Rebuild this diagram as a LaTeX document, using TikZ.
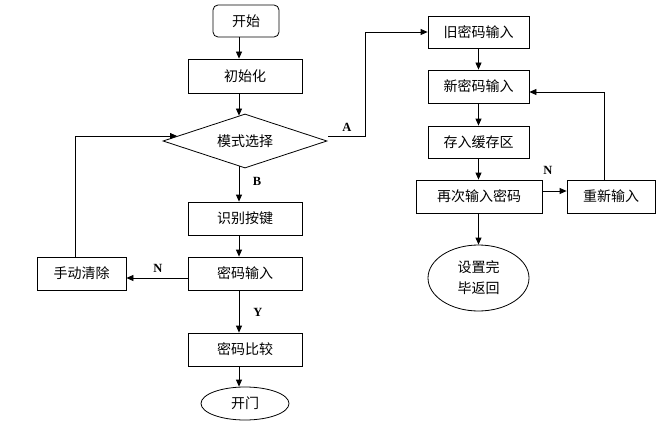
\documentclass[tikz,border=0pt]{standalone}
\usepackage{fontspec}
\setmainfont{Liberation Serif}
\newfontfamily\cjk{Noto Sans CJK SC}
\usetikzlibrary{shapes.geometric,arrows.meta,calc}
\begin{document}
\begin{tikzpicture}[x=1pt,y=-1pt,
  box/.style={draw, line width=0.8pt, rectangle, inner sep=0pt, font=\cjk\fontsize{14}{16}\selectfont},
  arr/.style={-{Triangle[length=7pt,width=6pt]}, line width=0.8pt},
  ln/.style={line width=0.8pt},
  lbl/.style={font=\bfseries\fontsize{12.5}{13}\selectfont, inner sep=0pt}]
\useasboundingbox (0,0) rectangle (671,433);
% left column
\node[box, rounded corners=5pt, minimum width=66pt, minimum height=32pt] (start) at (246,21) {开始};
\node[box, minimum width=114pt, minimum height=34pt] (init) at (245,76) {初始化};
\node[box, diamond, aspect=3, minimum width=164pt, minimum height=54pt] (mode) at (245,141) {模式选择};
\node[box, minimum width=114pt, minimum height=33pt] (recog) at (245,218.5) {识别按键};
\node[box, minimum width=114pt, minimum height=33pt] (pin) at (245,273.5) {密码输入};
\node[box, minimum width=89pt, minimum height=33pt] (clear) at (81.5,273.5) {手动清除};
\node[box, minimum width=114pt, minimum height=33pt] (cmp) at (245,349.5) {密码比较};
\node[box, ellipse, minimum width=88pt, minimum height=33pt] (open) at (245,403.5) {开门};
% right column
\node[box, minimum width=101pt, minimum height=32pt] (old) at (478.5,32) {旧密码输入};
\node[box, minimum width=101pt, minimum height=33pt] (new) at (478.5,86.5) {新密码输入};
\node[box, minimum width=101pt, minimum height=32pt] (buf) at (478.5,142) {存入缓存区};
\node[box, minimum width=126pt, minimum height=33pt] (again) at (479,196.5) {再次输入密码};
\node[box, minimum width=88pt, minimum height=33pt] (redo) at (611,196.5) {重新输入};
\node[box, ellipse, minimum width=101pt, minimum height=66pt, align=center, font=\cjk\fontsize{14}{21}\selectfont] (done) at (478.5,278) {设置完\\毕返回};
% helper coordinates
\coordinate (ax) at (239,0);
\coordinate (lx) at (75,0);
\coordinate (mleft) at (177,136);
\coordinate (aout) at (328,136);
\coordinate (ajog) at (365,136);
\coordinate (rx) at (604,0);
% connectors left
\draw[arr] (start.south -| ax) -- (init.north -| ax);
\draw[arr] (init.south -| ax) -- ($(mode.north -| ax)+(0,2)$);
\draw[arr] ($(mode.south -| ax)+(0,-2)$) -- (recog.north -| ax);
\draw[arr] (recog.south -| ax) -- (pin.north -| ax);
\draw[arr] ([yshift=-4.5pt]pin.west) -- ([yshift=-4.5pt]clear.east);
\draw[arr] (clear.north -| lx) |- (mleft);
\draw[arr] (pin.south -| ax) -- (cmp.north -| ax);
\draw[arr] (cmp.south -| ax) -- (open.north -| ax);
\node[lbl] at (257,181) {B};
\node[lbl] at (158,268) {N};
\node[lbl] at (258,312) {Y};
% connectors right
\draw[arr] (aout) -- (ajog) |- (old.west);
\node[lbl] at (347,127) {A};
\draw[arr] (old) -- (new);
\draw[arr] (new) -- (buf);
\draw[arr] (buf.south) -- (again.north -| buf.south);
\draw[arr] ([yshift=5.5pt]again.east) -- ([yshift=5.5pt]redo.west);
\node[lbl] at (548,170) {N};
\draw[arr] (redo.north -| rx) |- ([yshift=-5.5pt]new.east);
\draw[arr] (again.south -| done.north) -- (done.north);
\end{tikzpicture}
\end{document}
